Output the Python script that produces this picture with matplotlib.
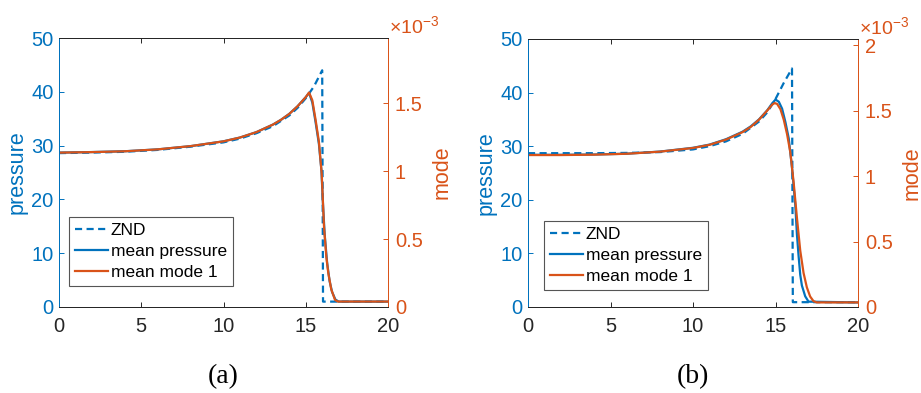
import numpy as np
import matplotlib
matplotlib.use("Agg")
import matplotlib.pyplot as plt
from matplotlib.ticker import FixedLocator, FuncFormatter

plt.rcParams['font.family'] = ['Liberation Sans', 'DejaVu Sans']
plt.rcParams['mathtext.fontset'] = 'custom'
plt.rcParams['mathtext.rm'] = 'Liberation Sans'
plt.rcParams['mathtext.it'] = 'Liberation Sans'

BLUE = '#0072BD'
ORANGE = '#D95319'
GRAY = '#262626'

# ---------------- panel (a) ----------------
znd_x_a = [0, 2, 4, 6, 8, 10, 11, 12, 13, 14, 14.5, 15, 15.5, 16.0, 16.05, 20]
znd_p_a = [28.6, 28.7, 28.85, 29.2, 29.8, 30.6, 31.3, 32.3, 33.6, 35.6, 37.0, 38.8, 41.0, 44.0, 1.0, 1.0]

mean_x_a = [0, 2, 4, 6, 8, 10, 11, 12, 13, 13.5, 14, 14.5, 15.0, 15.2, 15.4,
            15.6, 15.8, 15.95, 16.05, 16.15, 16.3, 16.45, 16.6, 16.8, 17.0, 20]
mean_p_a = [28.7, 28.8, 28.95, 29.3, 29.9, 30.8, 31.5, 32.5, 33.9, 34.8, 35.9, 37.3, 39.0, 39.8, 38.0,
            34.3, 30.3, 25.5, 19.0, 13.5, 8.2, 4.8, 2.8, 1.4, 1.0, 1.0]

mode_x_a = [0, 2, 4, 6, 8, 10, 11, 12, 13, 13.5, 14, 14.5, 15.0, 15.2, 15.4,
            15.6, 15.8, 15.97, 16.11, 16.25, 16.37, 16.55, 16.78, 16.95, 20]
mode_m_a = np.array([1.135, 1.139, 1.145, 1.159, 1.183, 1.218, 1.246, 1.286, 1.341, 1.377, 1.420,
                     1.476, 1.543, 1.577, 1.520, 1.375, 1.215, 0.980, 0.590, 0.370, 0.250,
                     0.130, 0.052, 0.040, 0.040]) * 1e-3

# ---------------- panel (b) ----------------
znd_x_b = [0, 2, 4, 6, 8, 10, 11, 12, 13, 14, 14.5, 15, 15.5, 16.0, 16.05, 20]
znd_p_b = [28.7, 28.7, 28.7, 28.75, 28.9, 29.4, 30.0, 30.9, 32.3, 34.6, 36.3, 38.8, 41.8, 44.5, 0.9, 0.9]

mean_x_b = [0, 2, 4, 6, 8, 10, 11, 12, 13, 13.5, 14, 14.5, 14.8, 15.0, 15.2, 15.4,
            15.6, 15.8, 16.0, 16.2, 16.3, 16.4, 16.5, 16.6, 16.8, 17.0, 20]
mean_p_b = [28.4, 28.4, 28.45, 28.6, 29.0, 29.7, 30.3, 31.3, 32.7, 33.7, 35.0, 36.7, 38.0, 38.7, 38.3,
            37.0, 34.5, 31.5, 26.0, 19.0, 13.5, 9.5, 6.0, 4.0, 2.0, 1.0, 0.85]

mode_x_b = [0, 2, 4, 6, 8, 10, 11, 12, 13, 13.5, 14, 14.5, 14.8, 14.95, 15.1, 15.3, 15.5,
            15.7, 15.9, 16.1, 16.3, 16.5, 16.7, 16.9, 17.1, 17.3, 17.5, 20]
mode_m_b = np.array([1.160, 1.160, 1.163, 1.170, 1.186, 1.214, 1.238, 1.278, 1.335, 1.375, 1.430,
                     1.500, 1.545, 1.557, 1.550, 1.510, 1.430, 1.320, 1.180, 0.950, 0.680,
                     0.430, 0.260, 0.150, 0.080, 0.045, 0.035, 0.035]) * 1e-3

panels = [
    dict(rect=[59 / 921, 86 / 393, 329 / 921, 269 / 393], znd=(znd_x_a, znd_p_a),
         mean=(mean_x_a, mean_p_a), mode=(mode_x_a, mode_m_a), mtop=1.978e-3,
         mticks=[0, 0.5e-3, 1.0e-3, 1.5e-3], leg=(0.031, 0.078), tag='(a)'),
    dict(rect=[528 / 921, 86 / 393, 330 / 921, 268 / 393], znd=(znd_x_b, znd_p_b),
         mean=(mean_x_b, mean_p_b), mode=(mode_x_b, mode_m_b), mtop=2.046e-3,
         mticks=[0, 0.5e-3, 1.0e-3, 1.5e-3, 2.0e-3], leg=(0.049, 0.063), tag='(b)'),
]

fig = plt.figure(figsize=(9.21, 3.93), dpi=100)
fig.patch.set_facecolor('white')

for pnl in panels:
    ax = fig.add_axes(pnl['rect'])
    ax2 = ax.twinx()

    l1, = ax.plot(*pnl['znd'], color=BLUE, lw=1.6, ls=(0, (3.2, 2.0)), label='ZND')
    l2, = ax.plot(*pnl['mean'], color=BLUE, lw=1.6, label='mean pressure')
    l3, = ax2.plot(*pnl['mode'], color=ORANGE, lw=1.6, label='mean mode 1')

    ax.set_xlim(0, 20)
    ax.set_ylim(0, 50)
    ax2.set_ylim(0, pnl['mtop'])
    ax.set_xticks([0, 5, 10, 15, 20])
    ax.set_yticks([0, 10, 20, 30, 40, 50])
    ax2.yaxis.set_major_locator(FixedLocator(pnl['mticks']))
    ax2.yaxis.set_major_formatter(FuncFormatter(lambda v, pos: f'{v * 1e3:g}'))

    for a in (ax, ax2):
        for s in a.spines.values():
            s.set_linewidth(0.7)
            s.set_color(GRAY)
    ax.spines['left'].set_color(BLUE)
    ax2.spines['left'].set_color(BLUE)
    ax.spines['right'].set_color(ORANGE)
    ax2.spines['right'].set_color(ORANGE)

    ax.tick_params(axis='x', direction='in', length=3.5, width=0.7, top=True,
                   labelsize=14.5, pad=7, colors=GRAY)
    ax.tick_params(axis='y', direction='in', length=3.5, width=0.7, right=False,
                   labelsize=14.5, pad=4, colors=BLUE)
    ax2.tick_params(axis='y', direction='in', length=3.5, width=0.7,
                    labelsize=14.5, pad=5, colors=ORANGE)

    x0, y0, w, h = pnl['rect']
    fig.text(x0 - 42 / 921, y0 + h / 2, 'pressure', rotation=90, ha='center', va='center',
             fontsize=15.5, color=BLUE)
    fig.text(x0 + w + 54 / 921, y0 + h / 2, 'mode', rotation=90, ha='center', va='center',
             fontsize=15.5, color=ORANGE)
    fig.text(x0 + w + 1 / 921, y0 + h + 1 / 393, r'$\times10^{-3}$', ha='left', va='bottom',
             fontsize=14, color=ORANGE)
    fig.text(x0 + w / 2, 16 / 393, pnl['tag'], ha='center', va='center', fontsize=20,
             family=['Liberation Serif', 'DejaVu Serif'], color='black')

    leg = ax2.legend(handles=[l1, l2, l3], loc='lower left', bbox_to_anchor=pnl['leg'],
                     borderaxespad=0, fontsize=12.5, frameon=True, fancybox=False,
                     framealpha=1, edgecolor='#555555', handlelength=1.9,
                     handletextpad=0.15, borderpad=0.35, labelspacing=0.33)
    leg.get_frame().set_linewidth(0.8)

fig.savefig('out.png', dpi=100, facecolor='white')
